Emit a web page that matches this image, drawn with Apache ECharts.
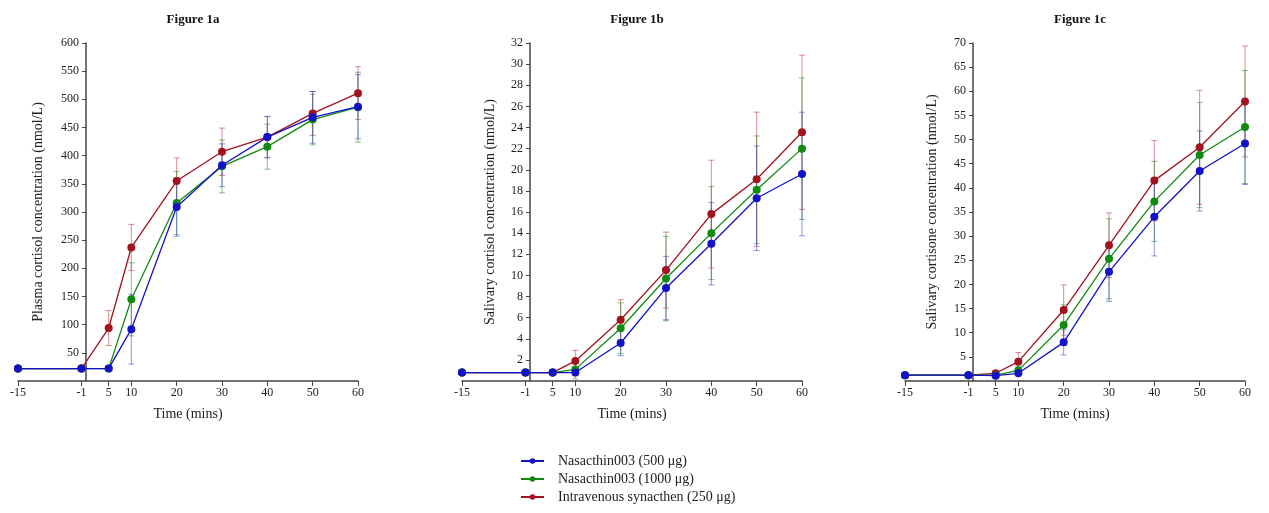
<!DOCTYPE html>
<html>
<head>
<meta charset="utf-8">
<script src="https://cdn.jsdelivr.net/npm/echarts@6/dist/echarts.min.js"></script>
<style>
  html, body { margin: 0; padding: 0; background: #fff; }
  #main { width: 1269px; height: 513px; }
</style>
</head>
<body>
<div id="main"></div>
<script>
// sample times (mins) and the labels shown under each x axis
const times = [-15, -1, 5, 10, 20, 30, 40, 50, 60];
const xTicks = [-15, -1, 5, 10, 20, 30, 40, 50, 60];

const seriesNames = [
    'Nasacthin003 (500 μg)',
    'Nasacthin003 (1000 μg)',
    'Intravenous synacthen (250 μg)'
];

// Figure 1a - plasma cortisol (nmol/L)
const plasmaNas500 = [22, 22, 22, 92, 309, 383, 433, 468, 487];
const plasmaNas1000 = [22, 22, 22, 145, 316, 381, 416, 464, 486];
const plasmaIv250 = [22, 22, 94, 237, 355, 407, 433, 475, 511];
const plasmaNas500Err = [0, 0, 0, 62, 52, 38, 37, 46, 57];
const plasmaNas1000Err = [0, 0, 0, 65, 56, 47, 40, 45, 62];
const plasmaIv250Err = [0, 0, 31, 41, 41, 42, 36, 39, 47];

// Figure 1b - salivary cortisol (nmol/L)
const salCortNas500 = [0.8, 0.8, 0.8, 0.8, 3.6, 8.8, 13.0, 17.3, 19.6];
const salCortNas1000 = [0.8, 0.8, 0.8, 1.1, 5.0, 9.7, 14.0, 18.1, 22.0];
const salCortIv250 = [0.8, 0.8, 0.8, 1.9, 5.8, 10.5, 15.8, 19.1, 23.55];
const salCortNas500Err = [0, 0, 0, 0.3, 1.2, 3.0, 3.9, 4.95, 5.85];
const salCortNas1000Err = [0, 0, 0, 0.9, 2.4, 4.0, 4.4, 5.1, 6.7];
const salCortIv250Err = [0, 0, 0, 1.0, 1.9, 3.6, 5.1, 6.35, 7.3];

// Figure 1c - salivary cortisone (nmol/L)
const salConeNas500 = [1.2, 1.2, 1.1, 1.6, 8.0, 22.6, 34.0, 43.5, 49.2];
const salConeNas1000 = [1.2, 1.2, 1.2, 2.2, 11.6, 25.3, 37.2, 46.8, 52.6];
const salConeIv250 = [1.2, 1.2, 1.6, 4.0, 14.7, 28.1, 41.5, 48.4, 57.9];
const salConeNas500Err = [0, 0, 0, 0.3, 2.6, 6.1, 8.1, 8.3, 8.5];
const salConeNas1000Err = [0, 0, 0, 0.8, 4.2, 8.3, 8.3, 10.9, 11.7];
const salConeIv250Err = [0, 0, 0.3, 1.9, 5.2, 6.7, 8.3, 11.8, 11.5];

const lineColors = ['#1212c8', '#128a12', '#a3121f'];
const errColors = ['rgba(60,60,200,0.55)', 'rgba(40,140,40,0.55)', 'rgba(190,50,60,0.55)'];

const panels = [
    {
        title: 'Figure 1a', yName: 'Plasma cortisol concentration (nmol/L)',
        max: 600, interval: 50, nameGap: 41,
        means: [plasmaIv250, plasmaNas1000, plasmaNas500],
        errs: [plasmaIv250Err, plasmaNas1000Err, plasmaNas500Err]
    },
    {
        title: 'Figure 1b', yName: 'Salivary cortisol concentration (nmol/L)',
        max: 32, interval: 2, nameGap: 33,
        means: [salCortIv250, salCortNas1000, salCortNas500],
        errs: [salCortIv250Err, salCortNas1000Err, salCortNas500Err]
    },
    {
        title: 'Figure 1c', yName: 'Salivary cortisone concentration (nmol/L)',
        max: 70, interval: 5, nameGap: 34,
        means: [salConeIv250, salConeNas1000, salConeNas500],
        errs: [salConeIv250Err, salConeNas1000Err, salConeNas500Err]
    }
];
// drawing order: red first, blue on top
const drawOrder = [2, 1, 0];

const gridLefts = [18, 462, 905];
const gridWidth = 340;
const xMin = -15, xMax = 60;
// y axis crosses the time axis at t = 0
const yAxisShift = -(0 - xMin) / (xMax - xMin) * gridWidth;
const fontFamily = "'Liberation Serif', 'Times New Roman', serif";

function renderErrorBar(params, api) {
    const x = api.value(0);
    const top = api.coord([x, api.value(2)]);
    const bot = api.coord([x, api.value(1)]);
    const w = 3;
    const style = { stroke: api.visual('color'), lineWidth: 1 };
    return {
        type: 'group',
        children: [
            { type: 'line', shape: { x1: top[0], y1: top[1], x2: bot[0], y2: bot[1] }, style },
            { type: 'line', shape: { x1: top[0] - w, y1: top[1], x2: top[0] + w, y2: top[1] }, style },
            { type: 'line', shape: { x1: bot[0] - w, y1: bot[1], x2: bot[0] + w, y2: bot[1] }, style }
        ]
    };
}

var grid = [], xAxis = [], yAxis = [], title = [], series = [];

panels.forEach((p, i) => {
    grid.push({
        left: gridLefts[i], top: 43, width: gridWidth, height: 338,
        containLabel: false, outerBoundsMode: 'none'
    });
    title.push({
        text: p.title,
        left: gridLefts[i] + gridWidth / 2,
        top: 8,
        textAlign: 'center',
        textStyle: { fontFamily, fontSize: 13, fontWeight: 'bold', color: '#111' }
    });
    xAxis.push({
        gridIndex: i,
        type: 'value',
        min: xMin,
        max: xMax,
        name: 'Time (mins)',
        nameLocation: 'middle',
        nameGap: 26,
        nameTextStyle: { fontFamily, fontSize: 14, color: '#222' },
        axisLine: { onZero: false, lineStyle: { color: '#444', width: 1.5 } },
        axisTick: { customValues: xTicks, length: 5, lineStyle: { color: '#444' } },
        axisLabel: { customValues: xTicks, fontFamily, fontSize: 12, color: '#222', margin: 6 },
        splitLine: { show: false }
    });
    yAxis.push({
        gridIndex: i,
        type: 'value',
        position: 'left',
        offset: yAxisShift,
        min: 0,
        max: p.max,
        interval: p.interval,
        name: p.yName,
        nameLocation: 'middle',
        nameGap: p.nameGap,
        nameTextStyle: { fontFamily, fontSize: 14, color: '#222' },
        axisLine: { show: true, onZero: false, lineStyle: { color: '#444', width: 1.5 } },
        axisTick: { show: true, length: 4, lineStyle: { color: '#444' } },
        axisLabel: { showMinLabel: false, fontFamily, fontSize: 12, color: '#222', margin: 7 },
        splitLine: { show: false }
    });

    drawOrder.forEach((s, k) => {
        const errData = [];
        times.forEach((t, j) => {
            const e = p.errs[k][j];
            if (e > 0) errData.push([t, p.means[k][j] - e, p.means[k][j] + e]);
        });
        series.push({
            name: 'err-' + i + '-' + s,
            type: 'custom',
            xAxisIndex: i,
            yAxisIndex: i,
            renderItem: renderErrorBar,
            itemStyle: { color: errColors[s] },
            encode: { x: 0, y: [1, 2] },
            data: errData,
            z: 1,
            silent: true
        });
    });
    drawOrder.forEach((s, k) => {
        series.push({
            name: seriesNames[s],
            type: 'line',
            xAxisIndex: i,
            yAxisIndex: i,
            data: times.map((t, j) => [t, p.means[k][j]]),
            symbol: 'circle',
            symbolSize: 8,
            color: lineColors[s],
            lineStyle: { width: 1.3, color: lineColors[s] },
            itemStyle: { color: lineColors[s] },
            z: 2 + k
        });
    });
});

var myChart = echarts.init(document.getElementById('main'));
myChart.setOption({
    animation: false,
    backgroundColor: '#fff',
    title,
    grid,
    xAxis,
    yAxis,
    legend: {
        data: seriesNames,
        orient: 'vertical',
        left: 520,
        top: 454,
        padding: 0,
        height: 60,
        itemWidth: 23,
        itemHeight: 7,
        itemGap: 4,
        textStyle: { fontFamily, fontSize: 14, color: '#222', padding: [0, 0, 0, 9] }
    },
    series
});
</script>
</body>
</html>
